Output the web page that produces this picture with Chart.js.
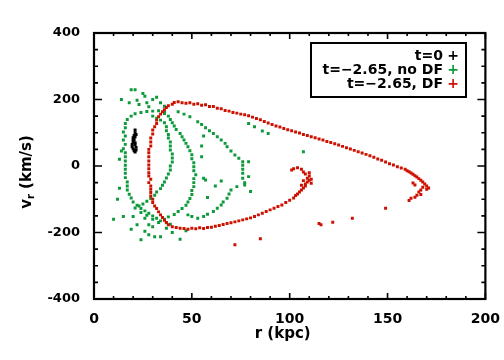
<!DOCTYPE html>
<html>
<head>
<meta charset="utf-8">
<script src="https://cdn.jsdelivr.net/npm/chart.js@4"></script>
<style>
  body { margin: 0; background: #fff; }
  #wrap { width: 504px; height: 360px; }
</style>
</head>
<body>
<div id="wrap"><canvas id="phase" width="504" height="360"></canvas></div>
<script>
// r (kpc), v_r (km/s)
const t0Points = [
  [21,108],[21,100],[20.5,92],[20,85],[20,78],[20,72],[19.5,65],[19.5,58],[20,52],
  [20.5,46],[21,42],[21.5,48],[21.5,56],[21,64],[21,70],[20.5,80],[21,88],[21.5,95]
];

const noDfPoints = [
  // outer left ring
  [17,140],[19,150],[21,157],[24,161],[27,164],[30,165],[33,166],[36,163],[16,128],[16,115],
  [15,102],[16,90],[15,78],[16,65],[15,52],[16,40],[16,28],[16,15],[16,2],[16,-10],[16,-22],
  [16,-35],[17,-48],[17,-60],[17,-72],[18,-85],[19,-96],[20,-108],[22,-118],[24,-128],[26,-135],
  [28,-142],[30,-150],[32,-157],[34,-165],[37,-171],[39,-175],
  // inner crescent
  [30,150],[32,144],[34,138],[36,130],[37,118],[37,106],[38,95],[38,84],[39,72],[39,60],[39,48],
  [40,36],[40,24],[40,12],[39,0],[39,-12],[38,-24],[37,-36],[36,-48],[35,-58],[34,-68],[32,-78],
  [31,-88],[29,-98],[27,-106],[25,-114],[23,-120],[21,-126],
  // middle arc
  [36,158],[38,150],[39,140],[40,130],[41,120],[42,110],[44,98],[45,88],[46,78],[47,68],[48,58],
  [49,46],[50,34],[50,22],[51,10],[51,-2],[51,-14],[52,-26],[51,-38],[51,-50],[51,-62],[50,-74],
  [50,-86],[49,-98],[48,-108],[47,-118],[45,-128],[43,-137],[41,-146],[38,-153],[36,-160],
  // far arc
  [43,163],[46,156],[49,148],[53,133],[55,125],[57,115],[59,106],[61,98],[63,88],[65,78],[67,68],
  [68,58],[70,45],[72,33],[74,23],[76,13],[76,2],[76,-10],[76,-22],[76,-37],[77,-50],[77,-57],
  [73,-62],[70,-72],[69,-84],[68,-97],[66,-108],[65,-117],[63,-127],[61,-137],[58,-145],[56,-152],
  [53,-157],[50,-152],[48,-147],
  [55,28],[56,-37],[57,-42],[55,60],[56,90],
  // loose particles
  [19,229],[21,229],[25,218],[26,210],[18,190],[23,185],[27,190],[30,200],[32,207],[34,190],
  [28,178],[36,180],[14,200],[22,198],
  [14,45],[13,20],[13,-67],[12,-100],[15,-152],[20,-152],[22,-177],[24,-222],[28,-207],[31,-213],
  [34,-213],[28,-177],[30,-183],[26,-157],[37,-187],[10,-160],[24,-140],[27,-148],[30,-160],
  [33,-170],[19,-190],[26,-196],
  [79,128],[82,118],[86,105],[89,98],[107,43],[79,13],[79,-32],[80,-77],[62,-60],[65,-45],
  [58,-95],[44,-220],[40,-200],[47,-195]
];

const dfPoints = [
  // left edge
  [38,-177],[37,-170],[36,-163],[35,-155],[34,-147],[33,-138],[32,-128],[31,-120],[30,-110],
  [30,-100],[29,-90],[29,-80],[29,-70],[29,-60],[28,-50],[29,-40],[28,-30],[28,-20],[28,-8],
  [28,3],[28,15],[28,28],[28,40],[28,50],[29,60],[29,72],[29,84],[30,96],[30,108],[31,118],
  [32,128],[32,138],[33,148],[34,156],[35,163],[36,169],[37,176],[38,181],[40,186],[41,191],
  // upper branch
  [43,193],[45,190],[47,189],[49,190],[51,186],[53,187],[55,183],[57,184],[59,179],[61,179],
  [63,174],[65,172],[67,167],[69,165],[71,161],[73,159],[75,156],[77,154],[79,151],[81,147],
  [83,143],[85,139],[87,134],[89,129],[91,125],[93,120],[95,117],[97,113],[99,109],[101,106],
  [103,102],[105,99],[107,95],[109,92],[111,88],[113,85],[115,81],[117,78],[119,74],[121,71],
  [123,67],[125,63],[127,59],[129,55],[131,51],[133,47],[135,43],[137,39],[139,35],[141,31],
  [143,26],[145,21],[147,17],[149,12],[151,7],[153,3],[155,-2],[157,-6],[159,-10],[160,-14],
  [161,-17],[162,-21],[163,-25],[164,-29],[165,-33],[166,-38],[167,-43],[168,-48],[169,-54],
  [170,-60],[171,-66],[170,-70],[168,-64],[167,-72],[166,-78],[167,-86],[165,-88],[164,-94],
  [162,-97],[161,-104],[163,-51],[164,-57],
  [149,-127],[132,-157],[122,-169],[116,-177],[115,-173],[85,-219],[72,-237],
  // lower branch
  [40,-183],[42,-185],[44,-187],[46,-188],[48,-190],[50,-187],[52,-189],[54,-186],[56,-188],
  [58,-185],[60,-184],[62,-181],[64,-179],[66,-176],[68,-173],[70,-171],[72,-168],[74,-165],
  [76,-162],[78,-159],[80,-156],[82,-152],[84,-147],[86,-142],[88,-137],[90,-132],[92,-127],
  [94,-122],[96,-117],[98,-110],[100,-103],[102,-96],[103,-89],[104,-84],[105,-78],[106,-72],
  [107,-66],[108,-60],[108,-54],[109,-48],[110,-43],[109,-37],[111,-40],[110,-30],[108,-24],
  [107,-18],[106,-10],[104,-5],[102,-8],[101,-12],[111,-52],[107,-44],[106,-58],[110,-20]
];

const xTicks = [0, 50, 100, 150, 200];
const yTicks = [-400, -200, 0, 200, 400];
const legendLabels = ['t=0', 't=\u22122.65, no DF', 't=\u22122.65, DF'];
const seriesColors = ['#000000', '#0c9a3a', '#cc1100'];

const toXY = pts => pts.map(p => ({ x: p[0], y: p[1] }));

const frameTicks = {
  id: 'frameTicks',
  afterDraw(chart) {
    const { ctx, chartArea: a, scales: { x, y } } = chart;
    ctx.save();
    ctx.strokeStyle = '#000';
    ctx.lineWidth = 2.2;
    ctx.strokeRect(a.left, a.top, a.right - a.left, a.bottom - a.top);
    ctx.lineWidth = 1.6;
    ctx.beginPath();
    for (let v = 0; v <= 200; v += 10) {
      const px = x.getPixelForValue(v);
      const len = v % 50 === 0 ? 6 : 3;
      ctx.moveTo(px, a.bottom); ctx.lineTo(px, a.bottom - len);
      ctx.moveTo(px, a.top); ctx.lineTo(px, a.top + len);
    }
    for (let v = -400; v <= 400; v += 50) {
      const py = y.getPixelForValue(v);
      const len = v % 200 === 0 ? 8 : 4;
      ctx.moveTo(a.left, py); ctx.lineTo(a.left + len, py);
      ctx.moveTo(a.right, py); ctx.lineTo(a.right - len, py);
    }
    ctx.stroke();

    // axis titles
    ctx.fillStyle = '#000';
    ctx.font = 'bold 15px "DejaVu Sans"';
    ctx.textAlign = 'center';
    ctx.textBaseline = 'middle';
    ctx.fillText('r (kpc)', (a.left + a.right) / 2 - 7, 334);

    ctx.translate(27, 172);
    ctx.rotate(-Math.PI / 2);
    ctx.textAlign = 'left';
    const w1 = ctx.measureText('v').width;
    ctx.font = 'bold 10px "DejaVu Sans"';
    const w2 = ctx.measureText('r').width;
    ctx.font = 'bold 15px "DejaVu Sans"';
    const w3 = ctx.measureText(' (km/s)').width;
    let sx = -(w1 + w2 + w3) / 2;
    ctx.fillText('v', sx, 0);
    sx += w1;
    ctx.font = 'bold 10px "DejaVu Sans"';
    ctx.fillText('r', sx, 4);
    sx += w2;
    ctx.font = 'bold 15px "DejaVu Sans"';
    ctx.fillText(' (km/s)', sx, 0);
    ctx.restore();
  }
};

const boxLegend = {
  id: 'boxLegend',
  afterDraw(chart) {
    const { ctx } = chart;
    ctx.save();
    ctx.strokeStyle = '#000';
    ctx.lineWidth = 2;
    ctx.strokeRect(311, 43, 155, 54);
    ctx.font = 'bold 14px "DejaVu Sans"';
    ctx.textBaseline = 'middle';
    legendLabels.forEach((lab, i) => {
      const cy = 56 + i * 14;
      ctx.fillStyle = '#000';
      ctx.textAlign = 'right';
      ctx.fillText(lab, 443, cy);
      ctx.fillStyle = seriesColors[i];
      ctx.textAlign = 'center';
      ctx.fillText('+', 453, cy);
    });
    ctx.restore();
  }
};

const pointStyle = color => ({
  showLine: false,
  pointStyle: 'rect',
  pointRadius: 2.1,
  pointBorderWidth: 0,
  pointBackgroundColor: color,
  pointBorderColor: color
});

new Chart(document.getElementById('phase'), {
  type: 'scatter',
  data: {
    datasets: [
      { label: legendLabels[0], data: toXY(t0Points), ...pointStyle(seriesColors[0]) },
      { label: legendLabels[2], data: toXY(dfPoints), ...pointStyle(seriesColors[2]) },
      { label: legendLabels[1], data: toXY(noDfPoints), ...pointStyle(seriesColors[1]) }
    ]
  },
  options: {
    responsive: false,
    animation: false,
    devicePixelRatio: 1,
    layout: { padding: { top: 33, right: 16, left: 0, bottom: 0 } },
    plugins: { legend: { display: false }, tooltip: { enabled: false } },
    scales: {
      x: {
        type: 'linear', min: 0, max: 200,
        afterBuildTicks: s => { s.ticks = xTicks.map(v => ({ value: v })); },
        afterFit: s => { s.height = 61; },
        grid: { display: false }, border: { display: false },
        ticks: { padding: 4, color: '#000', font: { family: 'DejaVu Sans', weight: 'bold', size: 14 } }
      },
      y: {
        type: 'linear', min: -400, max: 400,
        afterBuildTicks: s => { s.ticks = yTicks.map(v => ({ value: v })); },
        afterFit: s => { s.width = 94; },
        grid: { display: false }, border: { display: false },
        ticks: { padding: 6, color: '#000', font: { family: 'DejaVu Sans', weight: 'bold', size: 13 } }
      }
    }
  },
  plugins: [frameTicks, boxLegend]
});
</script>
</body>
</html>
